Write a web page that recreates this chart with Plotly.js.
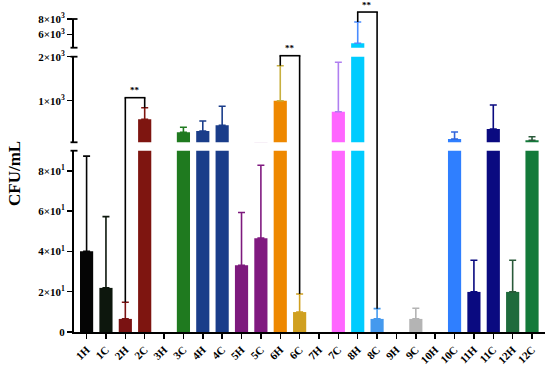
<!DOCTYPE html>
<html>
<head>
<meta charset="utf-8">
<script src="https://cdn.plot.ly/plotly-3.0.1.min.js"></script>
<style>html,body{margin:0;padding:0;background:#fff;}#chart{width:550px;height:367px;}</style>
</head>
<body>
<div id="chart"></div>
<script>
// ---- data ----
const categories = ['1H','1C','2H','2C','3H','3C','4H','4C','5H','5C','6H','6C',
                    '7H','7C','8H','8C','9H','9C','10H','10C','11H','11C','12H','12C'];
const means = [40.1, 21.9, 6.5, 577, 0, 282, 311, 441, 33.1, 46.6, 1000, 9.9,
               0, 750, 4883, 6.5, 0, 6.5, 0, 130, 19.9, 357, 19.9, 100];
const errorsUp = [47.2, 35.4, 8.3, 264, 0, 113, 228, 432, 26.2, 36.2, 795, 9.0,
                  0, 1123, 2727, 5.1, 0, 5.3, 0, 159, 15.7, 545, 15.7, 80];
const barColors = ['#050505','#0d170d','#7a1212','#7e1510','#ffffff','#1f7a1f','#1a3d8a','#1a3d8a',
                   '#7d1a7d','#801a80','#ee8800','#d0a020','#ffffff','#ff66ff','#00ccff','#4499ee',
                   '#ffffff','#b4b4b4','#ffffff','#2f7fff','#0a0a80','#0a0a80','#1e6b3c','#137a3a'];
const errColors = ['#050505','#0d170d','#7a1212','#7e1510','#ffffff','#1f7a1f','#1a3d8a','#1a3d8a',
                   '#7d1a7d','#801a80','#c8b040','#d0a020','#ffffff','#b07ff0','#4a8cff','#4499ee',
                   '#ffffff','#b4b4b4','#ffffff','#3366dd','#0a0a80','#0a0a80','#2a5a3a','#2a5a3a'];
const sigPairs = [['2H','2C'], ['6H','6C'], ['8H','8C']];
const sigLabel = '**';
const lowTicks = [0, 20, 40, 60, 80];
const lowTickText = ['0', '2×10<sup>1</sup>', '4×10<sup>1</sup>', '6×10<sup>1</sup>', '8×10<sup>1</sup>'];
const midTicks = [1000, 2000];
const midTickText = ['1×10<sup>3</sup>', '2×10<sup>3</sup>'];
const topTicks = [6000, 8000];
const topTickText = ['6×10<sup>3</sup>', '8×10<sup>3</sup>'];
const yTitle = 'CFU/mL';

// ---- layout geometry ----
const W = 550, H = 367;
const M = {l: 74, r: 5, t: 19, b: 35};
const plotH = H - M.t - M.b;
const plotW = W - M.l - M.r;
const segs = [
  {ax: 'y',  key: 'yaxis',  domain: [0, 0.5792],      range: [0, 90],      band: 0,    ticks: lowTicks, text: lowTickText},
  {ax: 'y2', key: 'yaxis2', domain: [0.6061, 0.8796], range: [54.5, 2000], band: 90,   ticks: midTicks, text: midTickText},
  {ax: 'y3', key: 'yaxis3', domain: [0.9083, 1.0],    range: [4312, 8000], band: 2000, ticks: topTicks, text: topTickText}
];
function segFor(v) {
  let s = segs[0];
  if (v > segs[1].band) s = segs[1];
  if (v > segs[2].band + 30) s = segs[2];
  return s;
}
function toPaper(v) {
  const s = segFor(v);
  return s.domain[0] + (v - s.range[0]) / (s.range[1] - s.range[0]) * (s.domain[1] - s.domain[0]);
}
const px2paper = p => p / plotH;

const fontFam = '"Liberation Serif", "Times New Roman", serif';
const traces = [];
segs.forEach(s => {
  categories.forEach((c, i) => {
    if (means[i] <= 0) return;
    const topVal = means[i] + errorsUp[i];
    traces.push({
      type: 'bar', x: [c], y: [means[i]], xaxis: 'x', yaxis: s.ax,
      width: 0.68,
      marker: {color: barColors[i], line: {width: 0}},
      error_y: {type: 'data', symmetric: false, array: [errorsUp[i]], arrayminus: [0],
                color: errColors[i], thickness: 1.6, width: 3.5, visible: topVal > s.band},
      showlegend: false, hoverinfo: 'skip'
    });
  });
});

const layout = {
  width: W, height: H,
  margin: M,
  paper_bgcolor: '#fff', plot_bgcolor: 'rgba(0,0,0,0)',
  barmode: 'overlay',
  showlegend: false,
  font: {family: fontFam, color: '#000'},
  xaxis: {
    type: 'category', categoryarray: categories, categoryorder: 'array',
    range: [-0.65, 23.67], anchor: 'y',
    showline: true, linecolor: '#000', linewidth: 2,
    ticks: 'outside', ticklen: 5, tickwidth: 1.5, tickcolor: '#000',
    tickangle: -45, showgrid: false, zeroline: false,
    tickfont: {family: fontFam, size: 11, weight: 'bold', color: '#000'}
  },
  shapes: [], annotations: []
};
segs.forEach(s => {
  layout[s.key] = {
    domain: s.domain, range: s.range, anchor: 'x',
    showline: true, linecolor: '#000', linewidth: 2,
    ticks: 'outside', ticklen: 5, tickwidth: 1.5, tickcolor: '#000',
    tickmode: 'array', tickvals: s.ticks, ticktext: s.text,
    showgrid: false, zeroline: false,
    tickfont: {family: fontFam, size: 11, weight: 'bold', color: '#000'}
  };
  // break caps at segment ends
  s.domain.forEach(d => {
    if (d === 0) return;
    layout.shapes.push({type: 'line', xref: 'paper', yref: 'paper',
      x0: -3.5 / plotW, x1: 3.5 / plotW, y0: d, y1: d,
      line: {color: '#000', width: 1.8}});
  });
});

// significance brackets
sigPairs.forEach(pair => {
  const ia = categories.indexOf(pair[0]), ib = categories.indexOf(pair[1]);
  const pa = toPaper(means[ia] + errorsUp[ia]);
  const pb = toPaper(means[ib] + errorsUp[ib]);
  const top = Math.max(pa, pb) + px2paper(10);
  const L = {color: '#000', width: 1.6};
  layout.shapes.push({type: 'line', xref: 'x', yref: 'paper', x0: ia, x1: ia, y0: pa, y1: top, line: L});
  layout.shapes.push({type: 'line', xref: 'x', yref: 'paper', x0: ib, x1: ib, y0: pb, y1: top, line: L});
  layout.shapes.push({type: 'line', xref: 'x', yref: 'paper', x0: ia - 0.04, x1: ib + 0.04, y0: top, y1: top, line: L});
  layout.annotations.push({xref: 'x', yref: 'paper', x: (ia + ib) / 2, y: top + px2paper(0.5),
    yanchor: 'bottom', text: sigLabel, showarrow: false,
    font: {family: fontFam, size: 9, weight: 'bold', color: '#000'}});
});

layout.annotations.push({xref: 'paper', yref: 'paper', x: -60 / plotW, y: (332 - 174) / plotH,
  text: yTitle, textangle: -90, showarrow: false, xanchor: 'center', yanchor: 'middle',
  font: {family: fontFam, size: 17, weight: 'bold', color: '#000'}});

Plotly.newPlot('chart', traces, layout, {displayModeBar: false, staticPlot: true});
</script>
</body>
</html>
